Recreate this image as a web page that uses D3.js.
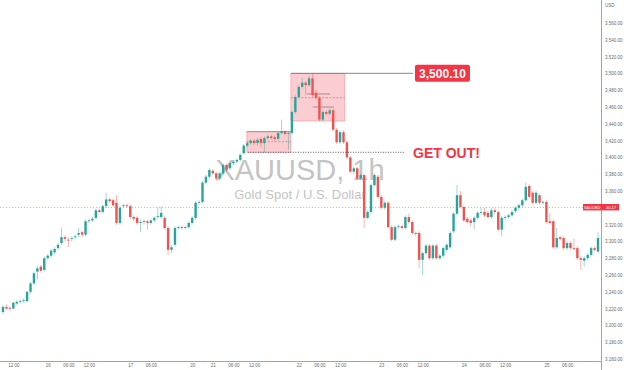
<!DOCTYPE html>
<html lang="en">
<head>
<meta charset="UTF-8">
<title>XAUUSD 1h</title>
<style>
  body { margin: 0; background: #fff; font-family: Arial, "Liberation Sans", sans-serif; }
  .axis text { fill: #6a6a6a; font-family: Arial, "Liberation Sans", sans-serif; }
</style>
</head>
<body>
<script src="https://d3js.org/d3.v7.min.js"></script>
<script>
// hourly candles
const opens = [3216,3222,3221,3220,3226,3228,3229,3229,3240,3250,
  3264,3270,3266,3280,3283,3287,3292,3298,3305,3302,
  3303,3305,3308,3311,3308,3324,3325,3328,3337,3335,
  3342,3350,3349,3346,3322,3342,3343,3342,3329,3328,
  3322,3323,3324,3322,3325,3329,3329,3328,3316,3290,
  3296,3316,3317,3316,3317,3322,3328,3346,3347,3370,
  3377,3384,3381,3375,3381,3391,3387,3393,3395,3397,
  3405,3414,3417,3420,3417,3422,3417,3423,3425,3424,
  3422,3429,3431,3428,3429,3454,3472,3484,3489,3486,
  3494,3477,3471,3445,3454,3452,3456,3433,3418,3430,
  3418,3400,3383,3387,3375,3379,3328,3335,3367,3377,
  3353,3340,3346,3317,3302,3317,3318,3316,3329,3323,
  3310,3310,3278,3286,3295,3280,3295,3280,3283,3290,
  3293,3312,3333,3355,3341,3327,3325,
  3323,3328,3334,3335,3334,3329,3337,3335,3314,3328,3329,3331,
  3336,3340,3343,3349,3366,3358,3346,3355,3346,3347,3324,
  3324,3293,3305,
  3304,3292,3298,3292,3292,3280,3277,3280,3284,3292,3288];
const highs = [3224,3225,3223,3228,3230,3231,3232,3241,3252,3264,
  3271,3272,3282,3285,3291,3293,3298,3316,3307,3305,
  3306,3308,3316,3313,3326,3327,3329,3339,3339,3344,
  3358,3352,3351,3355,3342,3345,3345,3344,3331,3330,
  3326,3326,3326,3327,3330,3340,3342,3330,3318,3296,
  3318,3319,3319,3319,3324,3330,3348,3349,3372,3379,
  3387,3386,3383,3383,3393,3393,3395,3397,3399,3405,
  3416,3419,3422,3422,3423,3424,3425,3427,3427,3426,
  3431,3445,3433,3431,3456,3474,3486,3494,3491,3497,
  3500.1,3480,3473,3456,3456,3458,3458,3435,3432,3432,
  3420,3402,3389,3389,3381,3381,3337,3369,3381,3379,
  3355,3348,3348,3319,3319,3320,3320,3331,3333,3325,
  3312,3312,3288,3297,3297,3297,3297,3285,3294,3298,
  3312,3335,3367,3360,3343,3329,3327,
  3330,3336,3340,3340,3337,3340,3340,3337,3330,3331,3333,3337,
  3342,3345,3351,3370,3368,3360,3360,3357,3349,3349,3334,
  3326,3316,3307,
  3306,3300,3300,3303,3294,3282,3282,3286,3294,3294,3311];
const lows = [3213,3218,3217,3219,3224,3226,3227,3227,3238,3248,
  3255,3263,3264,3278,3281,3285,3290,3296,3300,3293,
  3300,3303,3305,3305,3306,3322,3323,3326,3333,3333,
  3340,3346,3341,3320,3320,3340,3340,3327,3324,3320,
  3311,3320,3314,3320,3323,3327,3327,3314,3284,3286,
  3294,3314,3314,3314,3315,3320,3326,3344,3345,3368,
  3375,3379,3372,3373,3379,3383,3385,3391,3393,3395,
  3403,3412,3415,3415,3414,3412,3406,3421,3421,3419,
  3420,3427,3426,3409,3427,3452,3470,3482,3474,3484,
  3472,3468,3443,3443,3450,3450,3431,3416,3416,3416,
  3398,3381,3380,3373,3373,3316,3326,3333,3365,3351,
  3338,3338,3315,3300,3300,3315,3314,3314,3321,3308,
  3306,3268,3260,3284,3278,3278,3278,3278,3281,3288,
  3291,3310,3331,3339,3323,3321,3318,
  3314,3326,3332,3329,3327,3327,3333,3312,3306,3326,3327,3329,
  3334,3338,3341,3347,3351,3344,3344,3344,3344,3321,3320,
  3291,3291,3301,
  3290,3290,3290,3289,3278,3266,3270,3278,3282,3288,3286];
const closes = [3222,3220,3220,3227,3228,3229,3230,3240,3250,3262,
  3268,3265,3280,3283,3289,3291,3296,3305,3303,3301,
  3304,3306,3310,3308,3324,3325,3327,3337,3335,3342,
  3350,3348,3343,3322,3340,3343,3342,3329,3327,3322,
  3323,3324,3322,3325,3328,3330,3334,3316,3290,3293,
  3316,3317,3316,3317,3322,3328,3346,3347,3370,3377,
  3385,3381,3375,3381,3391,3385,3393,3395,3397,3403,
  3414,3417,3420,3417,3421,3417,3423,3425,3423,3422,
  3429,3431,3428,3429,3454,3472,3484,3489,3486,3494,
  3474,3471,3445,3454,3452,3456,3433,3418,3430,3418,
  3400,3383,3387,3375,3379,3328,3335,3367,3379,3353,
  3340,3346,3317,3302,3317,3318,3316,3329,3323,3310,
  3309,3278,3286,3295,3280,3295,3280,3283,3292,3296,
  3310,3333,3355,3341,3325,3323,3322,
  3328,3334,3335,3331,3329,3337,3335,3314,3328,3329,3331,3335,
  3340,3343,3349,3365,3353,3346,3358,3346,3347,3323,3322,
  3293,3304,3303,
  3292,3298,3292,3291,3280,3278,3280,3284,3292,3290,3304];

// time axis labels (bar index -> label)
const xTickIdx  = [3, 13, 19, 25, 37, 43, 55, 61, 67, 73, 86, 92, 98, 110, 116, 122, 134, 140, 146, 158, 164];
const xTickText = ["12:00","16","06:00","12:00","17","06:00","20","21","06:00","12:00",
                   "22","06:00","12:00","23","06:00","12:00","24","06:00","12:00","25","06:00"];
// 3,340 sits under the price tag, so it is left out like on the original scale
const yTicks = [3160,3180,3200,3220,3240,3260,3280,3300,3320,3360,3380,
                3400,3420,3440,3460,3480,3500,3520,3540,3560];

// drawings (bar index / price)
const zoneLow  = {x0: 70.9, x1: 83.7, top: 3430.6, mid: 3418.7, bottom: 3406.1};
const zoneHigh = {x0: 83.7, x1: 99.4, top: 3500.1, mid: 3471.1, bottom: 3443.3};
const topLevel = {x0: 83.7, x1: 119.2, price: 3500.1, label: "3,500.10"};
const exitLevel = {x0: 71.2, x1: 116.9, price: 3406.1, label: "GET OUT!"};
const shortLines = [{x0: 88.4, x1: 95.1, price: 3475.5}, {x0: 90.1, x1: 96.2, price: 3460}];
const lastLine = 3340.7;

const W = 624, H = 370;
const plotR = 601, plotB = 361;
const up = "#26a69a", down = "#ef5350";

const svg = d3.select("body").append("svg")
  .attr("width", W).attr("height", H);

const x = d3.scaleLinear().domain([0, opens.length - 1]).range([3, 598]);
const y = d3.scaleLinear().domain([3160, 3560]).range([359, 23]);

// watermark
const wm = svg.append("g").attr("fill", "#c4c4c4").attr("text-anchor", "middle");
wm.append("text").attr("x", 300).attr("y", 180)
  .attr("font-size", 29).text("XAUUSD, 1h");
wm.append("text").attr("x", 300).attr("y", 199)
  .attr("font-size", 13).text("Gold Spot / U.S. Dollar");

// last price dotted line
svg.append("line")
  .attr("x1", 0).attr("x2", plotR)
  .attr("y1", Math.round(y(lastLine)) + 0.5).attr("y2", Math.round(y(lastLine)) + 0.5)
  .attr("stroke", "#f7a8ae").attr("stroke-dasharray", "1,2");

// zones
[zoneLow, zoneHigh].forEach(z => {
  svg.append("rect")
    .attr("x", x(z.x0)).attr("y", y(z.top))
    .attr("width", x(z.x1) - x(z.x0)).attr("height", y(z.bottom) - y(z.top))
    .attr("fill", "rgba(242,54,69,0.25)")
    .attr("stroke", "rgba(242,54,69,0.45)").attr("stroke-width", 0.6);
  svg.append("line")
    .attr("x1", x(z.x0)).attr("x2", x(z.x1))
    .attr("y1", y(z.mid)).attr("y2", y(z.mid))
    .attr("stroke", "#9a8a8a").attr("stroke-width", 0.7).attr("stroke-dasharray", "2,1.5");
});
svg.append("line")
  .attr("x1", x(zoneLow.x0)).attr("x2", x(zoneLow.x1))
  .attr("y1", y(zoneLow.top)).attr("y2", y(zoneLow.top))
  .attr("stroke", "#8a7f80").attr("stroke-width", 0.8);
shortLines.forEach(l => {
  svg.append("line")
    .attr("x1", x(l.x0)).attr("x2", x(l.x1))
    .attr("y1", y(l.price)).attr("y2", y(l.price))
    .attr("stroke", "#8a7f80").attr("stroke-width", 0.8);
});

// candles
const idx = d3.range(opens.length);
const bw = 2.4;
const c = svg.append("g").selectAll("g").data(idx).join("g");
c.append("line")
  .attr("x1", i => x(i)).attr("x2", i => x(i))
  .attr("y1", i => y(highs[i])).attr("y2", i => y(lows[i]))
  .attr("stroke", i => closes[i] >= opens[i] ? up : down)
  .attr("stroke-opacity", 0.55).attr("stroke-width", 0.8);
c.append("rect")
  .attr("x", i => x(i) - bw / 2)
  .attr("y", i => y(Math.max(opens[i], closes[i])))
  .attr("width", bw)
  .attr("height", i => Math.max(0.8, Math.abs(y(opens[i]) - y(closes[i]))))
  .attr("fill", i => closes[i] >= opens[i] ? up : down);

// levels
svg.append("line")
  .attr("x1", x(topLevel.x0)).attr("x2", x(topLevel.x1))
  .attr("y1", y(topLevel.price)).attr("y2", y(topLevel.price))
  .attr("stroke", "#6b6b6b").attr("stroke-width", 0.8);
const tl = svg.append("g").attr("transform", `translate(${x(topLevel.x1) + 2},${y(topLevel.price)})`);
tl.append("rect").attr("x", 0).attr("y", -8.5).attr("width", 55).attr("height", 17)
  .attr("rx", 2).attr("fill", "#f23645");
tl.append("text").attr("x", 27.5).attr("y", 4.3).attr("text-anchor", "middle")
  .attr("fill", "#fff").attr("font-size", 12).attr("font-weight", "bold").text(topLevel.label);

svg.append("line")
  .attr("x1", x(exitLevel.x0)).attr("x2", x(exitLevel.x1))
  .attr("y1", y(exitLevel.price)).attr("y2", y(exitLevel.price))
  .attr("stroke", "#444").attr("stroke-width", 0.9).attr("stroke-dasharray", "1,1.5");
svg.append("text")
  .attr("x", x(exitLevel.x1) + 8).attr("y", y(exitLevel.price) + 5.5)
  .attr("fill", "#f23645").attr("font-size", 14).attr("font-weight", "bold")
  .text(exitLevel.label);

// axes
svg.append("line").attr("x1", plotR + 0.5).attr("x2", plotR + 0.5).attr("y1", 0).attr("y2", H)
  .attr("stroke", "#8c8c8c").attr("stroke-width", 0.8);
svg.append("line").attr("x1", 0).attr("x2", plotR).attr("y1", plotB + 0.5).attr("y2", plotB + 0.5)
  .attr("stroke", "#8c8c8c").attr("stroke-width", 0.8);

const yAxis = svg.append("g").attr("class", "axis")
  .attr("transform", `translate(${plotR + 3},0)`)
  .call(d3.axisRight(y).tickValues(yTicks).tickFormat(d3.format(",.2f")).tickSize(0).tickPadding(1));
yAxis.select(".domain").remove();
yAxis.selectAll("text").attr("font-size", 4.5);
svg.append("text").attr("class", "axis").attr("x", 605).attr("y", 6.5)
  .attr("font-size", 4.5).attr("fill", "#6a6a6a").text("USD");

const xAxis = svg.append("g").attr("class", "axis")
  .attr("transform", `translate(0,${plotB + 2})`)
  .call(d3.axisBottom(x).tickValues(xTickIdx).tickFormat((d, i) => xTickText[i]).tickSize(0).tickPadding(1));
xAxis.select(".domain").remove();
xAxis.selectAll("text").attr("font-size", 4.5);

// price tag on the scale
const tagY = y(lastLine);
svg.append("rect").attr("x", 583).attr("y", tagY - 3.2).attr("width", 36).attr("height", 6.4)
  .attr("fill", "#f23645");
svg.append("text").attr("x", 592).attr("y", tagY + 1.6).attr("text-anchor", "middle")
  .attr("font-size", 4).attr("fill", "#fff").text("XAUUSD");
svg.append("text").attr("x", 611).attr("y", tagY + 1.6).attr("text-anchor", "middle")
  .attr("font-size", 4).attr("fill", "#fff").text("40.17");
</script>
</body>
</html>
